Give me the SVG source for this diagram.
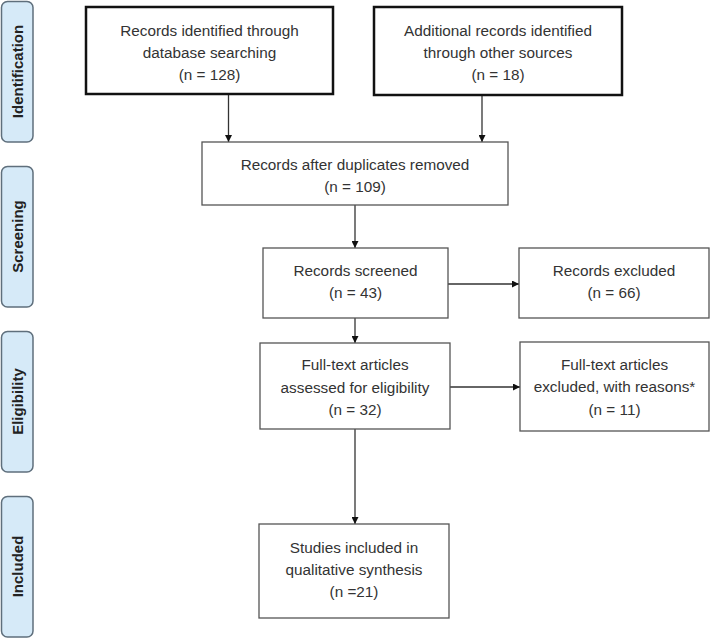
<svg xmlns="http://www.w3.org/2000/svg" width="711" height="639" viewBox="0 0 711 639">
<defs>
<style>
.lbl rect{fill:#d6eaf8;stroke:#5f6f7c;stroke-width:1.5}
.lbl text{font-family:"Liberation Sans",Arial,sans-serif;font-weight:bold;font-size:15px;fill:#222;text-anchor:middle}
.thick rect{fill:#fff;stroke:#111;stroke-width:2.5}
.thin rect{fill:#fff;stroke:#555;stroke-width:1.3}
.node text{font-family:"Liberation Sans",Arial,sans-serif;font-size:15.3px;fill:#333;text-anchor:middle}
.conn line{stroke:#333;stroke-width:1.3;marker-end:url(#arr)}
</style>
<marker id="arr" viewBox="0 0 10 10" refX="10" refY="5" markerWidth="7" markerHeight="7" markerUnits="userSpaceOnUse" orient="auto">
<path d="M0,0 L10,5 L0,10 z" fill="#111"/>
</marker>
</defs>
<rect width="711" height="639" fill="#fff"/>

<g id="stage-identification" class="lbl">
<rect x="1.5" y="1.5" width="31.5" height="140.5" rx="6"/>
<text transform="translate(22.5,71.5) rotate(-90)">Identification</text>
</g>
<g id="stage-screening" class="lbl">
<rect x="1.5" y="166.5" width="31.5" height="140.5" rx="6"/>
<text transform="translate(22.5,236.5) rotate(-90)">Screening</text>
</g>
<g id="stage-eligibility" class="lbl">
<rect x="1.5" y="331.5" width="31.5" height="140.5" rx="6"/>
<text transform="translate(22.5,401.5) rotate(-90)">Eligibility</text>
</g>
<g id="stage-included" class="lbl">
<rect x="1.5" y="496.5" width="31.5" height="140.5" rx="6"/>
<text transform="translate(22.5,566.5) rotate(-90)">Included</text>
</g>

<g id="connectors" class="conn">
<line x1="228.5" y1="94" x2="228.5" y2="142"/>
<line x1="482" y1="95" x2="482" y2="142"/>
<line x1="355" y1="205" x2="355" y2="248"/>
<line x1="448" y1="284" x2="519" y2="284"/>
<line x1="355" y1="318" x2="355" y2="343"/>
<line x1="450" y1="387" x2="520" y2="387"/>
<line x1="355" y1="429" x2="355" y2="524"/>
</g>

<g id="n-database" class="node thick">
<rect x="86" y="7" width="247" height="87"/>
<text x="209.5" y="36">Records identified through</text>
<text x="209.5" y="58">database searching</text>
<text x="209.5" y="80">(n = 128)</text>
</g>
<g id="n-other" class="node thick">
<rect x="374" y="7" width="248" height="88"/>
<text x="498" y="36">Additional records identified</text>
<text x="498" y="58">through other sources</text>
<text x="498" y="80">(n = 18)</text>
</g>
<g id="n-duplicates" class="node thin">
<rect x="202" y="142" width="306" height="63"/>
<text x="355" y="170">Records after duplicates removed</text>
<text x="355" y="192">(n = 109)</text>
</g>
<g id="n-screened" class="node thin">
<rect x="263" y="248" width="185" height="70"/>
<text x="355.5" y="276">Records screened</text>
<text x="355.5" y="298">(n = 43)</text>
</g>
<g id="n-excluded" class="node thin">
<rect x="519" y="248" width="190" height="70"/>
<text x="614" y="276">Records excluded</text>
<text x="614" y="298">(n = 66)</text>
</g>
<g id="n-fulltext" class="node thin">
<rect x="260" y="343" width="190" height="86"/>
<text x="355" y="370">Full-text articles</text>
<text x="355" y="393">assessed for eligibility</text>
<text x="355" y="415">(n = 32)</text>
</g>
<g id="n-ft-excluded" class="node thin">
<rect x="520" y="342" width="189" height="89"/>
<text x="614.5" y="370">Full-text articles</text>
<text x="614.5" y="392">excluded, with reasons*</text>
<text x="614.5" y="415">(n = 11)</text>
</g>
<g id="n-included" class="node thin">
<rect x="259" y="524" width="190" height="94"/>
<text x="354" y="553">Studies included in</text>
<text x="354" y="575">qualitative synthesis</text>
<text x="354" y="597">(n =21)</text>
</g>
</svg>
